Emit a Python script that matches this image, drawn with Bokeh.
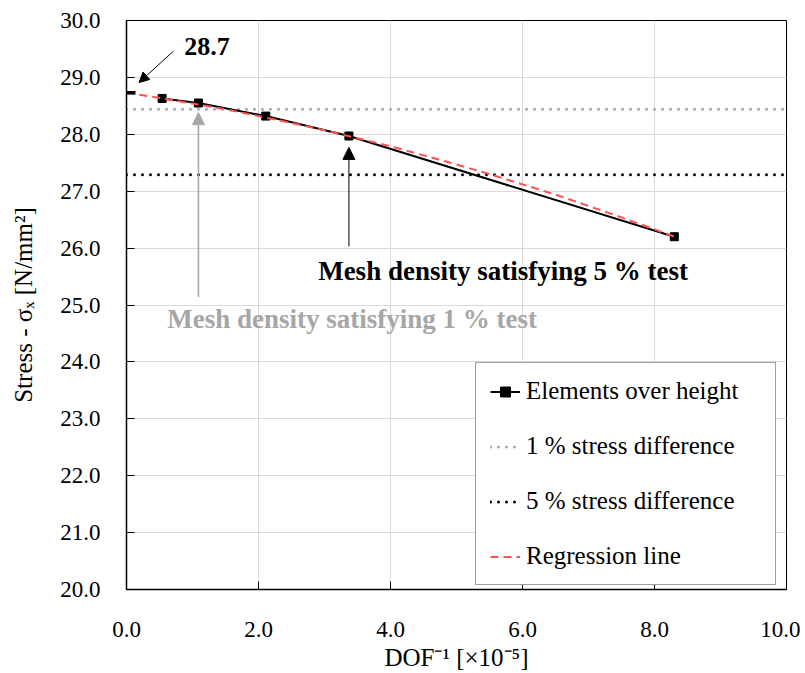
from bokeh.plotting import figure
from bokeh.models import (Legend, LegendItem, Label, Arrow, NormalHead,
                          FixedTicker, PrintfTickFormatter, Range1d)
from bokeh.embed import file_html
from bokeh.resources import INLINE

# ---- data ----
dof_inv = [0.54, 1.09, 2.11, 3.37, 8.30]          # DOF^-1 [x10^-5]
stress = [28.63, 28.55, 28.32, 27.97, 26.20]       # sigma_x [N/mm2]

reg_x = [0.0, 0.5, 1.0, 1.5, 2.0, 2.5, 3.0, 3.5, 4.0, 4.5, 5.0, 5.5,
         6.0, 6.5, 7.0, 7.5, 8.0, 8.3]
reg_y = [28.73, 28.64, 28.54, 28.44, 28.32, 28.20, 28.07, 27.93, 27.79,
         27.63, 27.47, 27.30, 27.12, 26.94, 26.74, 26.54, 26.33, 26.20]

one_pct_level = 28.44
five_pct_level = 27.29

x_limits = [0.0, 10.0]
y_limits = [20.0, 30.0]
x_ticks = [0, 2, 4, 6, 8, 10]
y_ticks = [20, 21, 22, 23, 24, 25, 26, 27, 28, 29, 30]

series_labels = ["Elements over height", "1 % stress difference",
                 "5 % stress difference", "Regression line"]
intercept_text = "28.7"
note_5 = "Mesh density satisfying 5 % test"
note_1 = "Mesh density satisfying 1 % test"

FONT = "Liberation Serif"
GREY = "#a6a6a6"
RED = "#ff5050"

p = figure(width=800, height=673, output_backend="svg", toolbar_location=None,
           x_range=Range1d(*x_limits), y_range=Range1d(*y_limits),
           min_border_left=126, min_border_right=14, min_border_top=20,
           min_border_bottom=83)
p.background_fill_color = "white"
p.border_fill_color = "white"
p.outline_line_color = "black"
p.outline_line_width = 1

for ax, ticks in ((p.xaxis, x_ticks), (p.yaxis, y_ticks)):
    ax.ticker = FixedTicker(ticks=ticks)
    ax.formatter = PrintfTickFormatter(format="%.1f")
    ax.major_tick_in = 8
    ax.major_tick_out = 0
    ax.minor_tick_line_color = None
    ax.axis_line_color = "black"
    ax.axis_line_width = 1.5
    ax.major_tick_line_color = "black"
    ax.major_label_text_font = FONT
    ax.major_label_text_font_size = "23px"
    ax.major_label_text_color = "black"
    ax.axis_label_text_font = FONT
    ax.axis_label_text_font_size = "25px"
    ax.axis_label_text_font_style = "normal"
    ax.axis_label_text_color = "black"

p.xaxis.axis_label = "DOF\u207b\u00b9 [\u00d710\u207b\u2075]"
p.yaxis.axis_label = "Stress - \u03c3\u2093 [N/mm\u00b2]"
p.xaxis.major_label_standoff = 32
p.xaxis.axis_label_standoff = 4
p.yaxis.major_label_text_align = "right"
p.yaxis.major_label_standoff = 26
p.yaxis.axis_label_standoff = 20

p.xgrid.grid_line_color = "#d9d9d9"
p.ygrid.grid_line_color = "#d9d9d9"

# ---- renderers ----
r_1 = p.line(x_limits, [one_pct_level, one_pct_level], line_color=GREY,
             line_width=3, line_dash="0 8", line_cap="round")
r_5 = p.line(x_limits, [five_pct_level, five_pct_level], line_color="black",
             line_width=3, line_dash="0 8", line_cap="round")
r_line = p.line(dof_inv, stress, line_color="black", line_width=2)
r_sq = p.scatter(dof_inv, stress, marker="square", size=8,
                 fill_color="black", line_color="black")
r_reg = p.line(reg_x, reg_y, line_color=RED, line_width=2, line_dash="8 5")
p.scatter([reg_x[0]], [reg_y[0]], marker="dash", size=18,
          line_color="black", line_width=3.5)

legend = Legend(items=[
    LegendItem(label=series_labels[0], renderers=[r_line, r_sq]),
    LegendItem(label=series_labels[1], renderers=[r_1]),
    LegendItem(label=series_labels[2], renderers=[r_5]),
    LegendItem(label=series_labels[3], renderers=[r_reg]),
], location=(349, 4))
legend.label_text_font = FONT
legend.label_text_font_size = "25px"
legend.label_text_color = "black"
legend.glyph_width = 30
legend.glyph_height = 25
legend.label_height = 25
legend.label_width = 235
legend.label_standoff = 6
legend.spacing = 27
legend.padding = 14
legend.margin = 0
legend.border_line_color = "#404040"
legend.border_line_width = 1
legend.background_fill_color = "white"
legend.background_fill_alpha = 1.0
p.add_layout(legend)

# ---- annotations ----
p.add_layout(Arrow(end=NormalHead(size=10, fill_color="black", line_color="black"),
                   x_start=0.71, y_start=29.46, x_end=0.19, y_end=28.91,
                   line_color="black", line_width=1))
p.add_layout(Arrow(end=NormalHead(size=12, fill_color=GREY, line_color=GREY),
                   x_start=dof_inv[1], y_start=25.14, x_end=dof_inv[1], y_end=28.38,
                   line_color=GREY, line_width=1.5))
p.add_layout(Arrow(end=NormalHead(size=12, fill_color="black", line_color="black"),
                   x_start=dof_inv[3], y_start=26.03, x_end=dof_inv[3], y_end=27.77,
                   line_color="black", line_width=1))

p.add_layout(Label(x=1.22, y=29.55, text=intercept_text, text_align="center",
                   text_baseline="middle", text_font=FONT, text_font_size="26px",
                   text_font_style="bold", text_color="black"))
p.add_layout(Label(x=5.705, y=25.60, text=note_5, text_align="center",
                   text_baseline="middle", text_font=FONT, text_font_size="27px",
                   text_font_style="bold", text_color="black"))
p.add_layout(Label(x=3.42, y=24.755, text=note_1, text_align="center",
                   text_baseline="middle", text_font=FONT, text_font_size="27px",
                   text_font_style="bold", text_color=GREY))

open("out.html", "w").write(file_html(p, INLINE))
